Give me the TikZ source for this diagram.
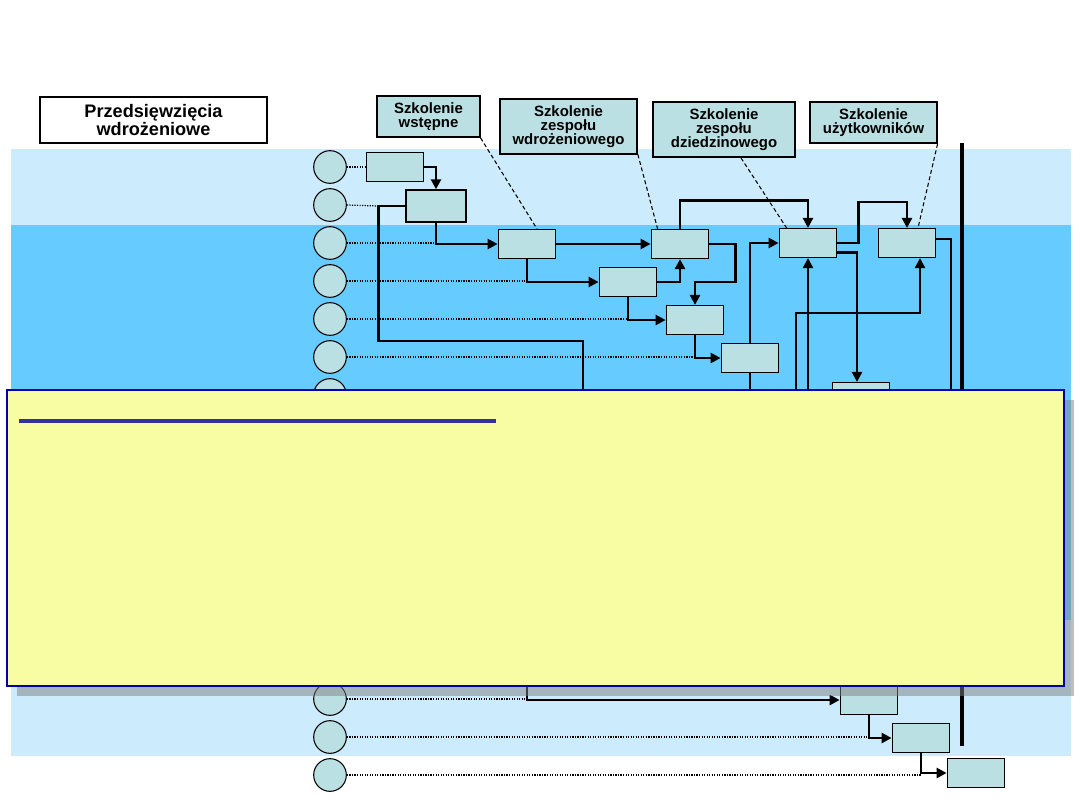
\documentclass[tikz,border=0pt]{standalone}
\usepackage{fontspec}
\setmainfont{Liberation Sans}
\usepackage{xcolor}
\usetikzlibrary{arrows.meta,calc}
\definecolor{PaleBand}{RGB}{204,235,252}
\definecolor{DeepBand}{RGB}{102,204,255}
\definecolor{Teal}{RGB}{187,224,227}
\definecolor{NoteYellow}{RGB}{248,252,162}
\definecolor{NoteBorder}{RGB}{0,0,170}
\definecolor{NoteRule}{RGB}{51,51,153}
\definecolor{Shade}{RGB}{128,128,128}

\begin{document}
\begin{tikzpicture}[
  x=0.75pt,
  y=-0.75pt,
  lane/.style={circle,draw=black,line width=0.8pt,fill=Teal,minimum size=24.5pt,inner sep=0pt},
  task/.style={draw=black,line width=1.1pt,fill=Teal,minimum width=43pt,minimum height=21.5pt,inner sep=0pt},
  tag/.style={draw=black,line width=1.1pt,fill=Teal,align=center,inner sep=0pt,font=\bfseries\fontsize{11.2}{10.7}\selectfont},
  flow/.style={line width=2.2pt,-{Triangle[length=7.5pt,width=7.5pt]}},
  wire/.style={line width=2.2pt},
  leader/.style={densely dotted,line width=0.9pt},
  pointer/.style={line width=0.8pt,dash pattern=on 3pt off 2pt}
]
  \useasboundingbox (0,0) rectangle (1080,810);

  % Bands
  \fill[PaleBand] (11,149) rectangle (1071,225);
  \fill[DeepBand] (11,225) rectangle (1071,620);
  \fill[PaleBand] (11,620) rectangle (1071,756);

  % Headings
  \node[draw=black,line width=1.1pt,fill=white,minimum width=170pt,minimum height=34.5pt,align=center,inner sep=0pt,font=\bfseries\fontsize{13.6}{12.5}\selectfont] (title) at (153.5,120) {Przedsięwzięcia\\wdrożeniowe};
  \node[tag,minimum width=77pt,minimum height=31pt] (tWst) at (428.5,116.5) {Szkolenie\\wstępne};
  \node[tag,minimum width=103pt,minimum height=41pt] (tWdr) at (568.5,126.5) {Szkolenie\\zespołu\\wdrożeniowego};
  \node[tag,line width=1.7pt,minimum width=106.5pt,minimum height=41pt] (tDzi) at (724,129.5) {Szkolenie\\zespołu\\dziedzinowego};
  \node[tag,minimum width=95pt,minimum height=31pt] (tUzy) at (873.5,122.5) {Szkolenie\\użytkowników};

  % Lanes and tasks
  \foreach \i in {0,...,16} {\node[lane] (c\i) at (330,167+38*\i) {};}
  \node[task] (b1) at (395,167) {};
  \node[task,minimum width=45pt,minimum height=24pt] (b2) at (436,206) {};
  \node[task] (b3) at (527,244) {};
  \node[task] (b4) at (680,244) {};
  \node[task] (b5) at (628,282) {};
  \node[task] (b6) at (695,320) {};
  \node[task] (b7) at (750,358) {};
  \node[task] (b8) at (808,243) {};
  \node[task] (b9) at (907,243) {};
  \node[task] (b10) at (861,397) {};
  \node[task] (b11) at (869,700) {};
  \node[task] (b12) at (921,738) {};
  \node[task] (b13) at (976,773) {};

  % Bends and ends behind the note
  \coordinate (k1) at ($(b2.west)+(-27,0)$);
  \coordinate (k2) at (583,341);
  \coordinate (k3) at ($(b9.south)+(13,0)$);
  \coordinate (k4) at (920,313);
  \coordinate (h1) at (583,470);
  \coordinate (h2) at (750,470);
  \coordinate (h3) at (808,470);
  \coordinate (h4) at (796,470);
  \coordinate (h5) at (951,470);
  \coordinate (h6) at (527,600);

  % Leaders
  \draw[leader] (c0.east) -- (b1.west);
  \draw[leader] (c1.east) -- (k1);
  \draw[leader] (c2.east) -- (c2 -| b2.south);
  \draw[leader] (c3.east) -- (c3 -| b3.south);
  \draw[leader] (c4.east) -- (c4 -| b5.south);
  \draw[leader] (c5.east) -- (c5 -| b6.south);
  \draw[leader] (c14.east) -- (c14 -| h6);
  \draw[leader] (c15.east) -- (c15 -| b11.south);
  \draw[leader] (c16.east) -- (c16 -| b12.south);

  % Flows
  \draw[flow] (b1.east) -| (b2.north);
  \draw[wire] (b2.west) -- (k1) |- (k2) -- (h1);
  \draw[flow] (b2.south) |- (b3.west);
  \draw[flow] (b3.east) -- (b4.west);
  \draw[flow] (b3.south) |- (b5.west);
  \draw[flow] (b5.east) -| (b4.south);
  \draw[flow] (b4.north) -- ++(0,-28) -| (b8.north);
  \draw[flow] (b4.east) -- ++(26,0) -- ++(0,38) -| (b6.north);
  \draw[flow] (b5.south) |- (b6.west);
  \draw[flow] (b6.south) |- (b7.west);
  \draw[flow] (b7.north) |- (b8.west);
  \draw[wire] (b7.south) -- (h2);
  \draw[flow] (h3) -- (b8.south);
  \draw[flow] (h4) |- (k4) -- (k3);
  \draw[flow] (b8.east) -- ++(21,0) -- ++(0,-41) -| (b9.north);
  \draw[flow] ([yshift=-7pt]b8.east) -| ($(b10.north)+(-4,0)$);
  \draw[wire] ([yshift=3pt]b9.east) -| (h5);
  \draw[flow] (h6) |- (b11.west);
  \draw[flow] (b11.south) |- (b12.west);
  \draw[flow] (b12.south) |- (b13.west);

  % Pointers
  \draw[pointer] (tWst.south east) -- ($(b3.north)+(10,0)$);
  \draw[pointer] (tWdr.south east) -- ($(b4.north west)+(7,0)$);
  \draw[pointer] ($(tDzi.south)+(17,0)$) -- ($(b8.north west)+(8,0)$);
  \draw[pointer] (tUzy.south east) -- ($(b9.north)+(11,0)$);

  % Deadline
  \coordinate (barTop) at (962,143);
  \coordinate (barBot) at (962,746);
  \draw[line width=3.4pt] (barTop) -- (barBot);

  % Note
  \fill[Shade,opacity=0.5] (17,400) rectangle (1074,696);
  \draw[NoteBorder,fill=NoteYellow,line width=1.1pt] (7,390) rectangle (1064,686);
  \draw[NoteRule,line width=2.4pt] (19,421) -- (496,421);
\end{tikzpicture}
\end{document}
